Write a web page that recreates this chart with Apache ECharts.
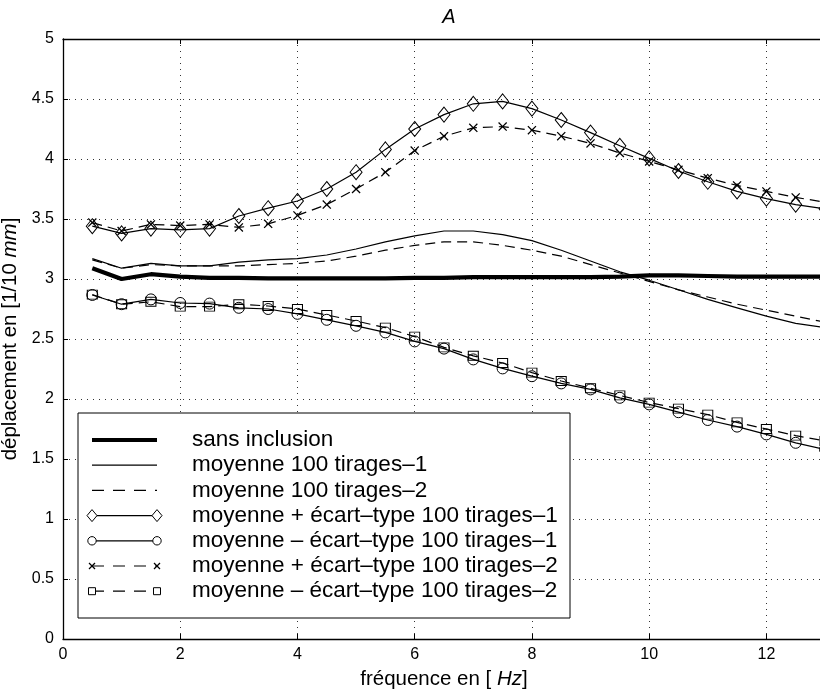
<!DOCTYPE html>
<html><head><meta charset="utf-8">
<script src="https://cdn.jsdelivr.net/npm/echarts@6/dist/echarts.min.js"></script>
<style>html,body{margin:0;padding:0;background:#fff}#c{width:820px;height:693px}</style>
</head><body><div id="c"></div>
<script>
// ---- data ----
const freq = [0.5,1,1.5,2,2.5,3,3.5,4,4.5,5,5.5,6,6.5,7,7.5,8,8.5,9,9.5,10,10.5,11,11.5,12,12.5,13];
const sansInclusion = [3.09,3.00,3.04,3.02,3.01,3.01,3.005,3.005,3.005,3.005,3.005,3.01,3.01,3.015,3.015,3.015,3.015,3.015,3.02,3.03,3.03,3.025,3.02,3.02,3.02,3.02];
const moyenne1 = [3.17,3.09,3.13,3.11,3.11,3.14,3.16,3.17,3.20,3.25,3.31,3.36,3.40,3.40,3.37,3.32,3.24,3.15,3.06,2.99,2.91,2.83,2.76,2.69,2.63,2.595];
const moyenne2 = [3.16,3.09,3.12,3.11,3.11,3.11,3.12,3.13,3.15,3.19,3.24,3.28,3.31,3.31,3.28,3.24,3.19,3.12,3.05,2.98,2.91,2.85,2.79,2.74,2.69,2.64];
const plusEcart1 = [3.44,3.38,3.42,3.41,3.42,3.525,3.59,3.65,3.75,3.89,4.08,4.25,4.37,4.46,4.48,4.42,4.325,4.22,4.11,4.005,3.90,3.81,3.73,3.67,3.62,3.585];
const minusEcart1 = [2.867,2.79,2.83,2.80,2.795,2.76,2.75,2.71,2.66,2.61,2.555,2.48,2.42,2.33,2.255,2.19,2.13,2.08,2.01,1.955,1.89,1.825,1.77,1.705,1.635,1.58];
const plusEcart2 = [3.47,3.40,3.455,3.445,3.455,3.43,3.46,3.53,3.62,3.75,3.89,4.07,4.19,4.26,4.27,4.24,4.19,4.13,4.05,3.98,3.91,3.84,3.78,3.73,3.68,3.64];
const minusEcart2 = [2.87,2.79,2.81,2.77,2.77,2.79,2.775,2.75,2.70,2.65,2.595,2.52,2.43,2.36,2.30,2.22,2.15,2.09,2.03,1.97,1.92,1.87,1.805,1.75,1.695,1.65];
const seriesNames = [
  'sans inclusion',
  'moyenne 100 tirages\u20131',
  'moyenne 100 tirages\u20132',
  'moyenne + \u00e9cart\u2013type 100 tirages\u20131',
  'moyenne \u2013 \u00e9cart\u2013type 100 tirages\u20131',
  'moyenne + \u00e9cart\u2013type 100 tirages\u20132',
  'moyenne \u2013 \u00e9cart\u2013type 100 tirages\u20132'
];
const titleText = 'A';
const xName = 'fr\u00e9quence en [ {i|Hz}]';
const yName = 'd\u00e9placement en [1/10 {i|mm}]';

// ---- styling ----
const FONT = '"Liberation Sans", Arial, Helvetica, sans-serif';
const CROSS = 'path://M0,1 L1,0 L5,4 L9,0 L10,1 L6,5 L10,9 L9,10 L5,6 L1,10 L0,9 L4,5 Z';
const pair = a => freq.map((x, i) => [x, a[i]]);
const hollow = {color: 'transparent', borderColor: '#000', borderWidth: 1};
const DASH = [10, 6];

const seriesDefs = [
  {data: sansInclusion, width: 4.2, dash: 'solid', symbol: 'none'},
  {data: moyenne1, width: 1.2, dash: 'solid', symbol: 'none'},
  {data: moyenne2, width: 1.2, dash: DASH, symbol: 'none'},
  {data: plusEcart1, width: 1.2, dash: 'solid', symbol: 'diamond', size: [12, 15], item: hollow},
  {data: minusEcart1, width: 1.2, dash: 'solid', symbol: 'circle', size: 11, item: hollow},
  {data: plusEcart2, width: 1.2, dash: DASH, symbol: CROSS, size: 9, item: {color: '#000', borderWidth: 0}},
  {data: minusEcart2, width: 1.2, dash: DASH, symbol: 'rect', size: [10, 9], item: hollow}
];

const series = seriesDefs.map((d, i) => ({
  type: 'line',
  name: seriesNames[i],
  data: pair(d.data),
  xAxisIndex: 0, yAxisIndex: 0,
  symbol: d.symbol,
  symbolSize: d.size || 0,
  showSymbol: d.symbol !== 'none',
  itemStyle: d.item || {color: '#000'},
  lineStyle: {color: '#000', width: d.width, type: d.dash},
  silent: true,
  z: 3 + i
}));

// ---- legend (drawn as graphic, MATLAB style) ----
const LG = {x: 78, y: 413, w: 492, h: 205, row0: 440, dy: 25.2, lx1: 92, lx2: 157, tx: 192};
const legendMarkers = [null, null, null, 'diamond', 'circle', 'cross', 'square'];
const gEls = [{
  type: 'rect', shape: {x: LG.x, y: LG.y, width: LG.w, height: LG.h},
  style: {fill: '#fff', stroke: '#000', lineWidth: 1}, z: 100
}];
function markerEls(kind, cx, cy) {
  const st = {fill: '#fff', stroke: '#000', lineWidth: 1};
  if (kind === 'diamond') return [{type: 'polygon', shape: {points: [[cx, cy - 6], [cx + 5, cy], [cx, cy + 6], [cx - 5, cy]]}, style: st, z: 102}];
  if (kind === 'circle') return [{type: 'circle', shape: {cx, cy, r: 4.2}, style: st, z: 102}];
  if (kind === 'square') return [{type: 'rect', shape: {x: cx - 3.5, y: cy - 3.5, width: 7, height: 7}, style: st, z: 102}];
  if (kind === 'cross') return [
    {type: 'line', shape: {x1: cx - 3, y1: cy - 3, x2: cx + 3, y2: cy + 3}, style: {stroke: '#000', lineWidth: 1.3}, z: 102},
    {type: 'line', shape: {x1: cx - 3, y1: cy + 3, x2: cx + 3, y2: cy - 3}, style: {stroke: '#000', lineWidth: 1.3}, z: 102}
  ];
  return [];
}
seriesDefs.forEach((d, i) => {
  const y = LG.row0 + i * LG.dy;
  gEls.push({
    type: 'line', shape: {x1: LG.lx1, y1: y, x2: LG.lx2, y2: y},
    style: {stroke: '#000', lineWidth: d.width, lineDash: Array.isArray(d.dash) ? [12, 9] : null}, z: 101
  });
  const m = legendMarkers[i];
  if (m) { gEls.push(...markerEls(m, LG.lx1, y)); gEls.push(...markerEls(m, LG.lx2, y)); }
  gEls.push({
    type: 'text', x: LG.tx, y: y,
    style: {text: seriesNames[i], fontSize: 22.5, fontFamily: FONT, fill: '#000', verticalAlign: 'middle', align: 'left'},
    z: 102
  });
});

const tickStyle = {show: true, inside: true, length: 5, lineStyle: {color: '#000', width: 1}};
const gridLine = {show: true, lineStyle: {color: '#333', width: 1, type: [1, 5]}};
const axisLine = {show: true, onZero: false, lineStyle: {color: '#000', width: 1.3}};

const option = {
  animation: false,
  backgroundColor: '#fff',
  title: {
    text: titleText, left: 444, top: 2, textAlign: 'center',
    textStyle: {fontFamily: FONT, fontSize: 20, fontWeight: 'normal', fontStyle: 'italic', color: '#000'}
  },
  grid: {left: 63, top: 39, width: 762, height: 600, containLabel: false, outerBoundsMode: 'none'},
  xAxis: [{
    type: 'value', min: 0, max: 13, interval: 2, position: 'bottom',
    axisLine, axisTick: tickStyle, splitLine: gridLine,
    axisLabel: {show: true, margin: 8, fontSize: 16, fontFamily: FONT, color: '#000', showMaxLabel: false},
    name: xName, nameLocation: 'middle', nameGap: 30,
    nameTextStyle: {fontSize: 20.5, fontFamily: FONT, color: '#000', rich: {i: {fontStyle: 'italic', fontSize: 20.5, fontFamily: FONT}}}
  }, {
    type: 'value', min: 0, max: 13, interval: 2, position: 'top',
    axisLine, axisTick: tickStyle, splitLine: {show: false}, axisLabel: {show: false}
  }],
  yAxis: [{
    type: 'value', min: 0, max: 5, interval: 0.5, position: 'left',
    axisLine, axisTick: tickStyle, splitLine: gridLine,
    axisLabel: {show: true, margin: 9, fontSize: 16, fontFamily: FONT, color: '#000'},
    name: yName, nameLocation: 'middle', nameGap: 32, nameRotate: 90,
    nameTextStyle: {fontSize: 20.5, fontFamily: FONT, color: '#000', rich: {i: {fontStyle: 'italic', fontSize: 20.5, fontFamily: FONT}}}
  }, {
    type: 'value', min: 0, max: 5, interval: 0.5, position: 'right',
    axisLine, axisTick: tickStyle, splitLine: {show: false}, axisLabel: {show: false}
  }],
  graphic: {elements: gEls},
  series
};
const chart = echarts.init(document.getElementById('c'), null, {renderer: 'canvas'});
chart.setOption(option);
</script>
</body></html>
